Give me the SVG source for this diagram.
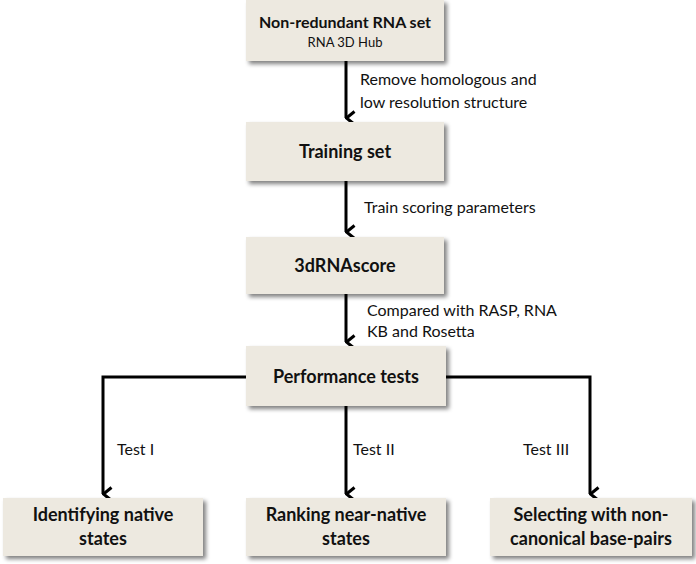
<svg xmlns="http://www.w3.org/2000/svg" width="696" height="564" viewBox="0 0 696 564">
<defs>
<filter id="sh" x="-10%" y="-10%" width="130%" height="140%">
<feGaussianBlur in="SourceAlpha" stdDeviation="2"/>
<feOffset dx="3" dy="3" result="b"/>
<feComponentTransfer><feFuncA type="linear" slope="0.5"/></feComponentTransfer>
<feMerge><feMergeNode/><feMergeNode in="SourceGraphic"/></feMerge>
</filter>
<marker id="ah" viewBox="0 0 16 16" refX="8" refY="14.5" markerWidth="16" markerHeight="16" markerUnits="userSpaceOnUse" orient="auto-start-reverse">
<path d="M1.5,6 L8,14 L14.5,6" fill="none" stroke="#000" stroke-width="3"/>
</marker>
</defs>
<style>
.box{fill:#ede9e0;filter:url(#sh)}
.t{font-family:Lato,"Open Sans","Liberation Sans",sans-serif;font-weight:bold;font-size:18px;fill:#111;text-anchor:middle}
.s{font-family:Lato,"Open Sans","Liberation Sans",sans-serif;font-size:16px;fill:#111}
.c{fill:none;stroke:#000;stroke-width:3}
</style>
<rect width="696" height="564" fill="#fff"/>
<g id="connectors">
<line class="c" x1="346" y1="61" x2="346" y2="118" marker-end="url(#ah)"/>
<line class="c" x1="346" y1="181" x2="346" y2="232" marker-end="url(#ah)"/>
<line class="c" x1="346" y1="294" x2="346" y2="342" marker-end="url(#ah)"/>
<polyline class="c" points="246,377 103,377 103,494" marker-end="url(#ah)"/>
<line class="c" x1="346" y1="406" x2="346" y2="494" marker-end="url(#ah)"/>
<polyline class="c" points="446,377 590,377 590,494" marker-end="url(#ah)"/>
<text class="s" x="360" y="85">Remove homologous and</text>
<text class="s" x="360" y="108">low resolution structure</text>
<text class="s" x="364" y="213">Train scoring parameters</text>
<text class="s" x="367" y="316">Compared with RASP, RNA</text>
<text class="s" x="367" y="337">KB and Rosetta</text>
<text class="s" x="117" y="455">Test I</text>
<text class="s" x="353" y="455">Test II</text>
<text class="s" x="523" y="455">Test III</text>
</g>
<g id="n1"><rect class="box" x="246" y="0" width="198" height="61"/>
<text class="t" x="345" y="28" style="font-size:16px">Non-redundant RNA set</text>
<text class="s" x="345" y="47" style="font-size:13px;text-anchor:middle">RNA 3D Hub</text></g>
<g id="n2"><rect class="box" x="246" y="122" width="198" height="59"/>
<text class="t" x="345" y="158">Training set</text></g>
<g id="n3"><rect class="box" x="246" y="237" width="198" height="57"/>
<text class="t" x="345" y="272">3dRNAscore</text></g>
<g id="n4"><rect class="box" x="246" y="346" width="200" height="60"/>
<text class="t" x="346" y="383">Performance tests</text></g>
<g id="n5"><rect class="box" x="3" y="498" width="200" height="58"/>
<text class="t" x="103" y="521">Identifying native</text>
<text class="t" x="103" y="545">states</text></g>
<g id="n6"><rect class="box" x="246" y="498" width="200" height="58"/>
<text class="t" x="346" y="521">Ranking near-native</text>
<text class="t" x="346" y="545">states</text></g>
<g id="n7"><rect class="box" x="490" y="498" width="202" height="58"/>
<text class="t" x="591" y="521">Selecting with non-</text>
<text class="t" x="591" y="545">canonical base-pairs</text></g>
</svg>
